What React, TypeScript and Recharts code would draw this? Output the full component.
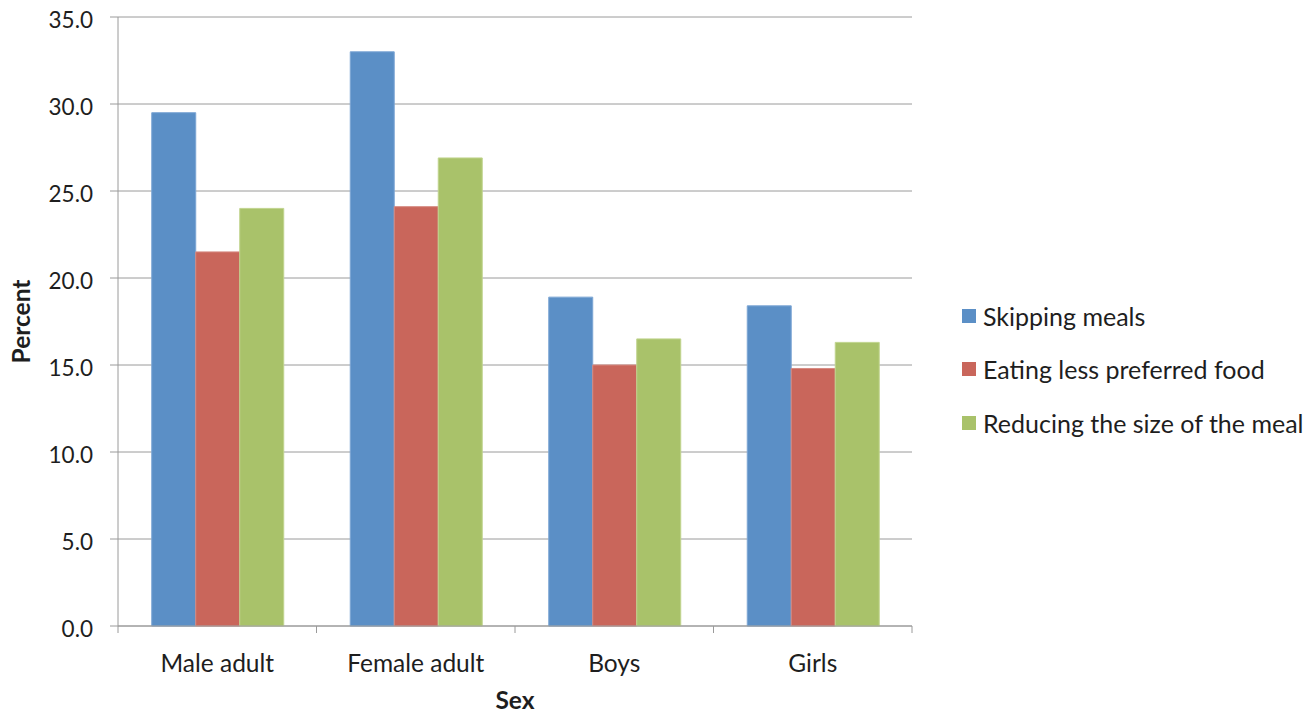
import React from 'react';
import { BarChart, Bar, XAxis, YAxis, CartesianGrid, Legend } from 'recharts';

const categories = ['Male adult', 'Female adult', 'Boys', 'Girls'];
const skippingMeals = [29.5, 33.0, 18.9, 18.4];
const eatingLessPreferred = [21.5, 24.1, 15.0, 14.8];
const reducingMealSize = [24.0, 26.9, 16.5, 16.3];
const yTicks = [0, 5, 10, 15, 20, 25, 30, 35];

const seriesNames = ['Skipping meals', 'Eating less preferred food', 'Reducing the size of the meal'];
const seriesKeys = ['skip', 'eat', 'reduce'];
const seriesColors = ['#5B8FC6', '#C9665B', '#A9C26A'];
const seriesStrokes = ['#7DA6D4', '#D68A82', '#C0D48E'];

const data = categories.map((c, i) => ({
  name: c,
  skip: skippingMeals[i],
  eat: eatingLessPreferred[i],
  reduce: reducingMealSize[i],
}));

const FONT = 'Lato, "Open Sans", sans-serif';
const TEXT = '#1e1e1e';
const AXIS = '#9a9a9a';
const LABEL_SIZE = 24.5;

const YTick = (props: any) => {
  const { x, y, payload } = props;
  return (
    <text x={x} y={y} dy={11} textAnchor="end" fontFamily={FONT} fontSize={22.5} fill={TEXT}>
      {Number(payload.value).toFixed(1)}
    </text>
  );
};

const XTick = (props: any) => {
  const { x, y, payload, index } = props;
  const half = payload && payload.offset ? payload.offset : 99.25;
  const axisY = y - 4;
  return (
    <g>
      <line x1={x - half} y1={axisY} x2={x - half} y2={axisY + 7} stroke={AXIS} strokeWidth={1} />
      {index === categories.length - 1 && (
        <line x1={x + half} y1={axisY} x2={x + half} y2={axisY + 7} stroke={AXIS} strokeWidth={1} />
      )}
      <text x={x} y={y} dy={42} textAnchor="middle" fontFamily={FONT} fontSize={LABEL_SIZE} fill={TEXT}>
        {payload.value}
      </text>
    </g>
  );
};

const LegendContent = () => (
  <div style={{ fontFamily: FONT, fontSize: 25, color: TEXT }}>
    {seriesNames.map((n, i) => (
      <div key={n} style={{ display: 'flex', alignItems: 'center', height: 53.5, whiteSpace: 'nowrap' }}>
        <span style={{ display: 'inline-block', width: 14, height: 14, background: seriesColors[i], marginRight: 7 }} />
        <span>{n}</span>
      </div>
    ))}
  </div>
);

export default function App() {
  return (
    <div style={{ position: 'absolute', left: 0, top: 0, width: 1316, height: 713, background: '#fff' }}>
      <BarChart
        width={1316}
        height={713}
        data={data}
        margin={{ top: 17, right: 404, bottom: 0, left: 0 }}
        barCategoryGap="17%"
        barGap={0}
      >
        <CartesianGrid vertical={false} stroke={AXIS} strokeWidth={1} />
        <XAxis
          dataKey="name"
          tickLine={false}
          axisLine={{ stroke: AXIS }}
          tick={<XTick />}
          tickSize={4}
          tickMargin={0}
          interval={0}
          height={87}
          label={(p: any) => {
            const vb = p.viewBox || { x: 118, y: 626, width: 794 };
            return (
              <text x={vb.x + vb.width / 2} y={vb.y + 83} textAnchor="middle" fontFamily={FONT} fontSize={LABEL_SIZE} fontWeight={700} fill={TEXT}>
                Sex
              </text>
            );
          }}
        />
        <YAxis
          width={118}
          domain={[0, 35]}
          ticks={yTicks}
          interval={0}
          tick={<YTick />}
          tickSize={8}
          tickMargin={17}
          tickLine={{ stroke: AXIS }}
          axisLine={{ stroke: AXIS }}
          label={(p: any) => {
            const vb = p.viewBox || { x: 0, y: 17, width: 118, height: 609 };
            const cx = 30;
            const cy = vb.y + vb.height / 2;
            return (
              <text x={cx} y={cy} transform={`rotate(-90 ${cx} ${cy})`} textAnchor="middle" fontFamily={FONT} fontSize={LABEL_SIZE} fontWeight={700} fill={TEXT}>
                Percent
              </text>
            );
          }}
        />
        <Legend
          layout="vertical"
          align="center"
          verticalAlign="middle"
          content={<LegendContent />}
          wrapperStyle={{ position: 'absolute', left: 962, top: 289, width: 354, height: 165 }}
        />
        {seriesKeys.map((k, i) => (
          <Bar key={k} dataKey={k} name={seriesNames[i]} fill={seriesColors[i]} stroke={seriesStrokes[i]} strokeWidth={1} isAnimationActive={false} />
        ))}
      </BarChart>
    </div>
  );
}
